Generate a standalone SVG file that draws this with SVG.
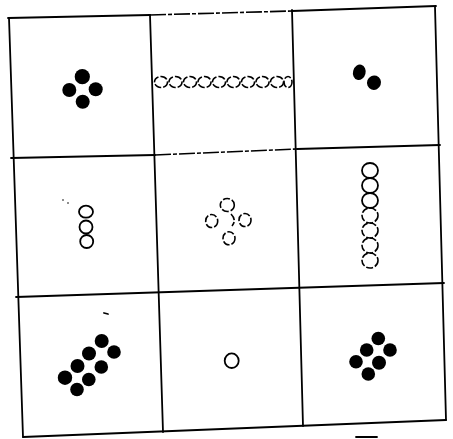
<svg xmlns="http://www.w3.org/2000/svg" width="453" height="439" viewBox="0 0 453 439">
<style>
.ln{stroke:#000;stroke-width:1.8;fill:none;stroke-linecap:round}
.fd{stroke:#000;stroke-width:1.6;fill:none;stroke-dasharray:16 2 4 2}
.dot{fill:#000}
.ring{fill:none;stroke:#000;stroke-width:1.8}
.br{fill:none;stroke:#000;stroke-width:1.6;stroke-dasharray:7 2}
</style>
<rect width="453" height="439" fill="#fff"/>
<g id="grid">
<path class="ln" d="M8 18 L150 15 M292 11 L436 6"/>
<path class="fd" d="M150 15 L292 11"/>
<path class="ln" d="M11 158 L155 155 M297 149 L440 145"/>
<path class="fd" d="M155 155 L297 149"/>
<path class="ln" d="M16 297 L444 283"/>
<path class="ln" d="M23 437 L446 420"/>
<path class="ln" d="M9 18 L23 437"/>
<path class="ln" d="M150 15 L163 432"/>
<path class="ln" d="M292 10 L303 426"/>
<path class="ln" d="M435 7 L446 420"/>
<path class="ln" d="M356 437 L377 437" stroke-width="2"/>
<path class="ln" d="M104 313 L108 314" stroke-width="1.5"/>
<circle class="dot" cx="63" cy="200" r="0.8"/>
<circle class="dot" cx="68" cy="203" r="0.8"/>
</g>
<g id="cell-1-1">
<circle class="dot" cx="82.3" cy="76.7" r="7.6"/>
<circle class="dot" cx="69.3" cy="90" r="7"/>
<circle class="dot" cx="95.7" cy="89.3" r="7"/>
<circle class="dot" cx="82.7" cy="101.7" r="7"/>
</g>
<g id="cell-1-2">
<ellipse class="br" cx="161" cy="82" rx="6.5" ry="5.5"/>
<ellipse class="br" cx="175.5" cy="82" rx="6.5" ry="5.5"/>
<ellipse class="br" cx="190" cy="82" rx="6.5" ry="5.5"/>
<ellipse class="br" cx="204.5" cy="82" rx="6.5" ry="5.5"/>
<ellipse class="br" cx="219" cy="82" rx="6.5" ry="5.5"/>
<ellipse class="br" cx="233.5" cy="82" rx="6.5" ry="5.5"/>
<ellipse class="br" cx="248" cy="82" rx="6.5" ry="5.5"/>
<ellipse class="br" cx="262.5" cy="82" rx="6.5" ry="5.5"/>
<ellipse class="br" cx="277" cy="82" rx="6.5" ry="5.5"/>
<ellipse class="br" cx="288" cy="82" rx="4" ry="5.5"/>
</g>
<g id="cell-1-3">
<ellipse class="dot" cx="359.3" cy="72.3" rx="6.3" ry="7.8" transform="rotate(15 359.3 72.3)"/>
<ellipse class="dot" cx="374" cy="82.7" rx="7" ry="7.3" transform="rotate(20 374 82.7)"/>
</g>
<g id="cell-2-1">
<ellipse class="ring" cx="86" cy="211.7" rx="7" ry="6"/>
<ellipse class="ring" cx="86" cy="227" rx="6.5" ry="6.5"/>
<ellipse class="ring" cx="86.7" cy="241.5" rx="6.5" ry="6.5"/>
</g>
<g id="cell-2-2">
<ellipse class="br" cx="227.3" cy="205" rx="7" ry="6.5"/>
<ellipse class="br" cx="211.7" cy="221" rx="6" ry="6.5"/>
<ellipse class="br" cx="245" cy="220" rx="6" ry="6.5"/>
<ellipse class="br" cx="229" cy="238.3" rx="6" ry="6.5"/>
<path class="br" d="M231 214 Q237 220 232 226"/>
</g>
<g id="cell-2-3">
<ellipse class="ring" cx="370" cy="170.5" rx="8" ry="7.5"/>
<ellipse class="ring" cx="370" cy="185.5" rx="8" ry="7.5"/>
<ellipse class="ring" cx="370" cy="200.5" rx="8" ry="7.5"/>
<ellipse class="br" cx="370" cy="215.5" rx="8" ry="7.5"/>
<ellipse class="br" cx="370" cy="230.5" rx="8" ry="7.5"/>
<ellipse class="br" cx="370" cy="245.5" rx="8" ry="7.5"/>
<ellipse class="br" cx="370" cy="260.5" rx="8" ry="7.5"/>
</g>
<g id="cell-3-1">
<circle class="dot" cx="101.7" cy="341" r="7"/>
<circle class="dot" cx="89" cy="353.5" r="7"/>
<circle class="dot" cx="77.5" cy="366" r="7"/>
<circle class="dot" cx="65" cy="377.7" r="7.2"/>
<circle class="dot" cx="114" cy="352" r="6.8"/>
<circle class="dot" cx="101.3" cy="367" r="6.8"/>
<circle class="dot" cx="88.8" cy="379.5" r="6.8"/>
<circle class="dot" cx="77" cy="389.5" r="6.8"/>
</g>
<g id="cell-3-2">
<ellipse class="ring" cx="231.7" cy="360.7" rx="7" ry="7.3" stroke-width="2"/>
</g>
<g id="cell-3-3">
<circle class="dot" cx="378.3" cy="338.5" r="6.8"/>
<circle class="dot" cx="366.7" cy="350" r="6.8"/>
<circle class="dot" cx="390" cy="350" r="6.8"/>
<circle class="dot" cx="356" cy="361.7" r="6.8"/>
<circle class="dot" cx="379" cy="362.7" r="7"/>
<circle class="dot" cx="368.3" cy="374" r="6.8"/>
</g>
</svg>
